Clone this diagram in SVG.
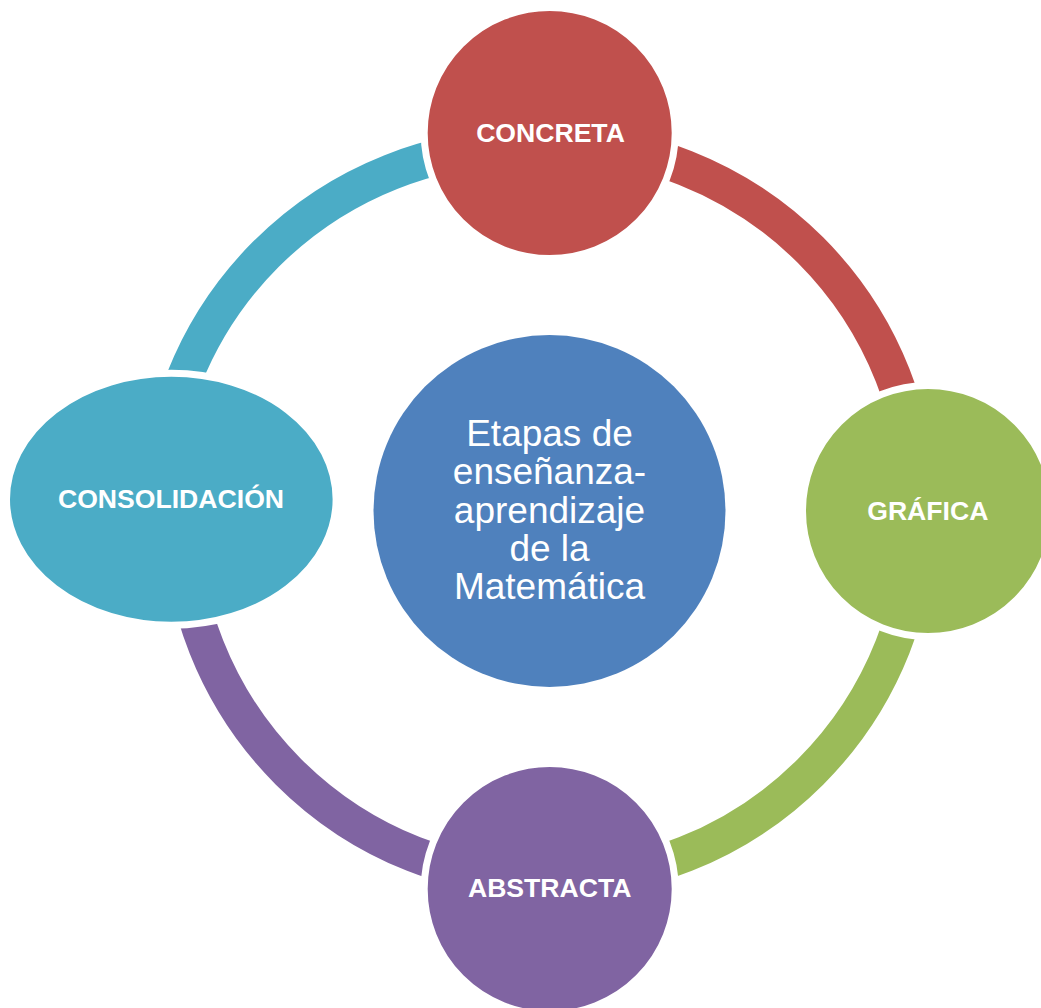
<svg xmlns="http://www.w3.org/2000/svg" width="1041" height="1008" viewBox="0 0 1041 1008">
<style>
.arc{fill:none;stroke-width:36;stroke-linecap:butt}
.node{stroke:#FFFFFF;stroke-width:7}
.lbl{font-family:"Liberation Sans",Arial,sans-serif;font-weight:bold;font-size:26.6px;fill:#FFFFFF;text-anchor:middle}
.ctr{font-family:"Liberation Sans",Arial,sans-serif;font-size:37px;fill:#FFFFFF;text-anchor:middle}
</style>
<rect width="1041" height="1008" fill="#FFFFFF"/>
<g id="connectors">
<path class="arc" stroke="#C0504D" d="M 549.5 142 A 369 369 0 0 1 918.5 511"/>
<path class="arc" stroke="#9BBB59" d="M 918.5 511 A 369 369 0 0 1 549.5 880"/>
<path class="arc" stroke="#8064A2" d="M 549.5 880 A 369 369 0 0 1 180.5 511"/>
<path class="arc" stroke="#4BACC6" d="M 158 515 A 369 369 0 0 1 527 146"/>
</g>
<g id="center">
<circle cx="549.5" cy="511" r="176" fill="#4F81BD"/>
<text class="ctr" x="549.5" y="446">Etapas de</text>
<text class="ctr" x="549.5" y="484.3">enseñanza-</text>
<text class="ctr" x="549.5" y="522.6">aprendizaje</text>
<text class="ctr" x="549.5" y="560.9">de la</text>
<text class="ctr" x="549.5" y="599.2">Matemática</text>
</g>
<g id="concreta">
<circle class="node" cx="549.7" cy="133" r="125.5" fill="#C0504D"/>
<text class="lbl" x="550.5" y="141.7">CONCRETA</text>
</g>
<g id="grafica">
<circle class="node" cx="928" cy="511" r="125.5" fill="#9BBB59"/>
<text class="lbl" x="927.8" y="520">GRÁFICA</text>
</g>
<g id="abstracta">
<circle class="node" cx="549.7" cy="889" r="125.5" fill="#8064A2"/>
<text class="lbl" x="549.7" y="897.3">ABSTRACTA</text>
</g>
<g id="consolidacion">
<ellipse class="node" cx="171.3" cy="499.2" rx="164.8" ry="126" fill="#4BACC6"/>
<text class="lbl" x="171" y="508.3">CONSOLIDACIÓN</text>
</g>
</svg>
